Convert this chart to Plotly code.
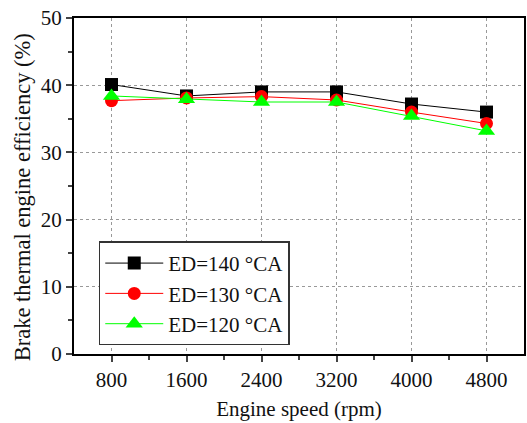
import plotly.graph_objects as go

speed = [800, 1600, 2400, 3200, 4000, 4800]
ed140 = [40.1, 38.4, 39.0, 39.0, 37.2, 36.0]
ed130 = [37.7, 38.1, 38.3, 37.8, 36.0, 34.3]
ed120 = [38.4, 37.9, 37.5, 37.5, 35.4, 33.2]
names = ["ED=140 °CA", "ED=130 °CA", "ED=120 °CA"]
colors = ["black", "#ff0000", "#00ff00"]
symbols = ["square", "circle", "triangle-up"]

fig = go.Figure()
for ys, n, c, s in zip([ed140, ed130, ed120], names, colors, symbols):
    fig.add_trace(go.Scatter(x=speed, y=ys, name=n, mode="lines+markers",
                             line=dict(color=c, width=1),
                             marker=dict(symbol=s, color=c, size=13 if s != "triangle-up" else 15)))

font = "Liberation Serif, Times New Roman, serif"
fig.update_layout(
    width=527, height=423,
    margin=dict(l=74, r=1, t=18, b=69),
    plot_bgcolor="white", paper_bgcolor="white",
    font=dict(family=font, size=21, color="#111111"),
    legend=dict(x=0.055, y=0.335, xanchor="left", yanchor="top",
                bordercolor="#333333", borderwidth=1.5, bgcolor="white",
                font=dict(size=21, family=font), itemwidth=58,
                tracegroupgap=0),
    annotations=[dict(text="Brake thermal engine efficiency (%)", textangle=-90,
                      xref="paper", yref="paper", x=-0.115, y=0.467,
                      xanchor="center", yanchor="middle", showarrow=False,
                      font=dict(size=22.5, family=font, color="#111111"))],
)
fig.update_xaxes(range=[400, 5200], tickvals=speed, ticks="outside", ticklen=6,
                 tickwidth=1.5, showline=True, linewidth=2, linecolor="black", mirror=True,
                 showgrid=True, gridcolor="#999999", griddash="dot", gridwidth=1,
                 minor=dict(tickvals=[1200, 2000, 2800, 3600, 4400], ticks="outside", ticklen=4, tickwidth=1.5, showgrid=False),
                 title=dict(text="Engine speed (rpm)", font=dict(size=21), standoff=10),
                 tickfont=dict(size=21), zeroline=False)
fig.update_yaxes(range=[0, 50], tickvals=[0, 10, 20, 30, 40, 50], ticks="outside", ticklen=6,
                 tickwidth=1.5, showline=True, linewidth=2, linecolor="black", mirror=True,
                 showgrid=True, gridcolor="#999999", griddash="dot", gridwidth=1,
                 minor=dict(tickvals=[5, 15, 25, 35, 45], ticks="outside", ticklen=4, tickwidth=1.5, showgrid=False),
                 tickfont=dict(size=21), zeroline=False)
fig.write_html("out.html")
